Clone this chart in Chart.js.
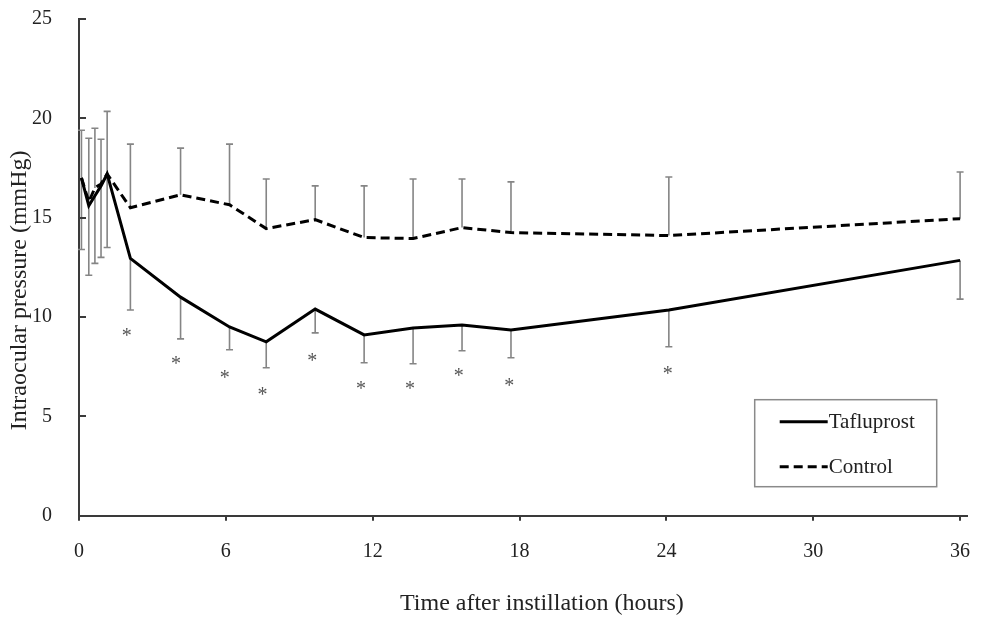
<!DOCTYPE html>
<html>
<head>
<meta charset="utf-8">
<title>Intraocular pressure after instillation</title>
<script src="https://cdn.jsdelivr.net/npm/chart.js@4/dist/chart.umd.min.js"></script>
<style>
  html, body { margin: 0; padding: 0; background: #fff; }
  #wrap { width: 985px; height: 621px; }
</style>
</head>
<body>
<div id="wrap"><canvas id="iopChart" width="985" height="621"></canvas></div>
<script>
const hours = [0.1, 0.4, 0.65, 0.9, 1.15, 2.1, 4.15, 6.15, 7.65, 9.65, 11.65, 13.65, 15.65, 17.65, 24.1, 36];

// mean IOP (mmHg) and the one-sided error bar shown for each group
const tafluprostIop = [17.0, 15.6, 16.1, 16.6, 17.2, 12.95, 11.0, 9.5, 8.75, 10.4, 9.1, 9.45, 9.6, 9.35, 10.35, 12.85];
const tafluprostErr = [3.6, 3.5, 3.4, 3.6, 3.7, 2.6, 2.1, 1.15, 1.3, 1.2, 1.4, 1.8, 1.3, 1.4, 1.85, 1.95];
const controlIop = [17.0, 15.8, 16.5, 16.7, 17.2, 15.5, 16.15, 15.65, 14.45, 14.9, 14.0, 13.95, 14.5, 14.25, 14.1, 14.95];
const controlErr = [2.4, 3.2, 3.0, 2.25, 3.15, 3.2, 2.35, 3.05, 2.5, 1.7, 2.6, 3.0, 2.45, 2.55, 2.95, 2.35];

// significance marks (*) under the tafluprost curve
const sigHours = [1.95, 3.96, 5.96, 7.5, 9.53, 11.52, 13.52, 15.52, 17.58, 24.06];
const sigLevel = [9.25, 7.85, 7.15, 6.3, 8.0, 6.6, 6.6, 7.25, 6.75, 7.35];

const xTicks = [0, 6, 12, 18, 24, 30, 36];
const yTicks = [0, 5, 10, 15, 20, 25];

const SERIF = "'Liberation Serif', 'Times New Roman', serif";
const AXIS_COLOR = '#3a3a3a';
const TEXT_COLOR = '#222';

const toPoints = (xs, ys) => xs.map((x, i) => ({ x: x, y: ys[i] }));

// gray whiskers: control goes up, tafluprost goes down
const errorBars = {
    id: 'errorBars',
    beforeDatasetsDraw(chart) {
        const { ctx, scales: { x, y } } = chart;
        const cap = 3.5;
        ctx.save();
        ctx.strokeStyle = '#858585';
        ctx.lineWidth = 1.6;
        const whisker = (t, from, to) => {
            const px = x.getPixelForValue(t);
            const y1 = y.getPixelForValue(from);
            const y2 = y.getPixelForValue(to);
            ctx.beginPath();
            ctx.moveTo(px, y1);
            ctx.lineTo(px, y2);
            ctx.moveTo(px - cap, y2);
            ctx.lineTo(px + cap, y2);
            ctx.stroke();
        };
        hours.forEach((t, i) => {
            whisker(t, controlIop[i], controlIop[i] + controlErr[i]);
            whisker(t, tafluprostIop[i], tafluprostIop[i] - tafluprostErr[i]);
        });
        ctx.restore();
    }
};

const asterisks = {
    id: 'asterisks',
    afterDatasetsDraw(chart) {
        const { ctx, scales: { x, y } } = chart;
        ctx.save();
        ctx.fillStyle = '#555';
        ctx.font = '20px ' + SERIF;
        ctx.textAlign = 'center';
        ctx.textBaseline = 'alphabetic';
        sigHours.forEach((t, i) => {
            // the glyph sits high in its em box, push the baseline down
            ctx.fillText('*', x.getPixelForValue(t), y.getPixelForValue(sigLevel[i]) + 10);
        });
        ctx.restore();
    }
};

// inside tick marks on y, axis titles and the boxed legend
const decorations = {
    id: 'decorations',
    afterDraw(chart) {
        const { ctx, chartArea: area, scales: { y } } = chart;
        ctx.save();

        ctx.strokeStyle = AXIS_COLOR;
        ctx.lineWidth = 2;
        y.ticks.forEach(tk => {
            const py = Math.round(y.getPixelForValue(tk.value));
            ctx.beginPath();
            ctx.moveTo(area.left, py);
            ctx.lineTo(area.left + 7, py);
            ctx.stroke();
        });

        ctx.fillStyle = TEXT_COLOR;
        ctx.font = '24px ' + SERIF;
        ctx.textAlign = 'center';
        ctx.textBaseline = 'middle';
        ctx.fillText('Time after instillation (hours)', (area.left + area.right) / 2 + 19, area.bottom + 88);

        ctx.save();
        ctx.translate(20, (area.top + area.bottom) / 2 + 23);
        ctx.rotate(-Math.PI / 2);
        ctx.fillText('Intraocular pressure (mmHg)', 0, 0);
        ctx.restore();

        // legend box
        const bx = area.right - 212, by = area.bottom - 116, bw = 182, bh = 87;
        ctx.strokeStyle = '#8a8a8a';
        ctx.lineWidth = 1.5;
        ctx.strokeRect(bx, by, bw, bh);
        ctx.font = '21px ' + SERIF;
        ctx.textAlign = 'left';
        chart.data.datasets.forEach((ds, i) => {
            const ly = by + 22 + i * 45;
            ctx.strokeStyle = ds.borderColor;
            ctx.lineWidth = ds.borderWidth;
            ctx.setLineDash(ds.borderDash || []);
            ctx.beginPath();
            ctx.moveTo(bx + 25, ly);
            ctx.lineTo(bx + 73, ly);
            ctx.stroke();
            ctx.setLineDash([]);
            ctx.fillStyle = TEXT_COLOR;
            ctx.fillText(ds.label, bx + 74, ly + 1);
        });
        ctx.restore();
    }
};

new Chart(document.getElementById('iopChart'), {
    type: 'line',
    data: {
        datasets: [{
            label: 'Tafluprost',
            data: toPoints(hours, tafluprostIop),
            borderColor: '#000',
            borderWidth: 3,
            pointRadius: 0,
            tension: 0
        }, {
            label: 'Control',
            data: toPoints(hours, controlIop),
            borderColor: '#000',
            borderWidth: 3,
            borderDash: [9, 5],
            pointRadius: 0,
            tension: 0
        }]
    },
    options: {
        responsive: false,
        devicePixelRatio: 1,
        animation: false,
        layout: { padding: { top: 19, right: 18.3, left: 0, bottom: 0 } },
        plugins: {
            legend: { display: false },
            tooltip: { enabled: false }
        },
        scales: {
            x: {
                type: 'linear',
                min: 0,
                max: 36.27,
                afterBuildTicks: s => { s.ticks = xTicks.map(v => ({ value: v })); },
                afterFit: s => {
                    s.height = 105.3;
                    s.paddingLeft = 0;
                    s.paddingRight = 0;
                },
                grid: { drawOnChartArea: false, drawTicks: true, tickLength: 5, color: AXIS_COLOR, lineWidth: 2 },
                border: { color: AXIS_COLOR, width: 2 },
                ticks: { padding: 19, color: TEXT_COLOR, font: { family: SERIF, size: 20 } }
            },
            y: {
                min: 0,
                max: 25,
                afterBuildTicks: s => { s.ticks = yTicks.map(v => ({ value: v })); },
                afterFit: s => {
                    s.width = 79;
                    s.paddingTop = 0;
                    s.paddingBottom = 0;
                },
                grid: { drawOnChartArea: false, drawTicks: false },
                border: { color: AXIS_COLOR, width: 2 },
                ticks: { padding: 27, color: TEXT_COLOR, font: { family: SERIF, size: 20 } }
            }
        }
    },
    plugins: [errorBars, asterisks, decorations]
});
</script>
</body>
</html>
